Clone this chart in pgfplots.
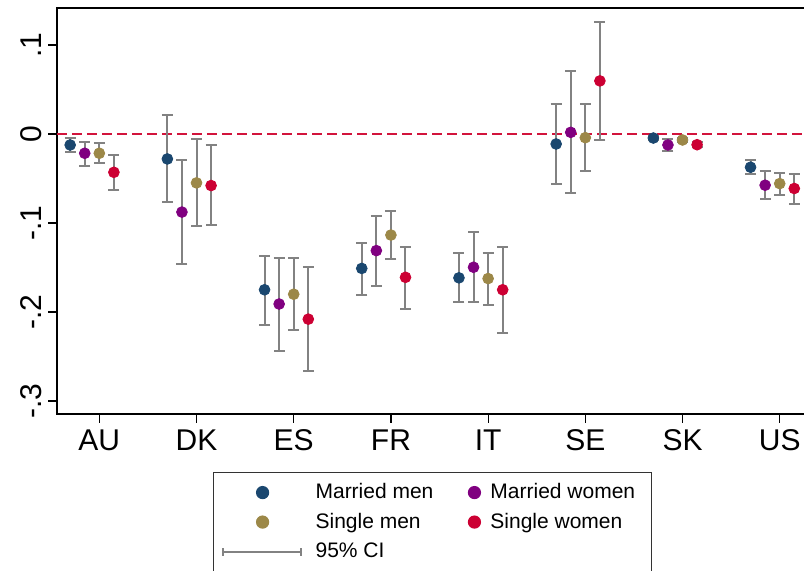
\documentclass[border=0pt]{standalone}
\usepackage{fontspec}
\setmainfont{Liberation Sans}
\usepackage{pgfplots}
\usepackage{pgfplotstable}
\pgfplotsset{compat=1.18}
\definecolor{mmcol}{RGB}{26,71,111}
\definecolor{mwcol}{RGB}{128,0,128}
\definecolor{smcol}{RGB}{156,136,72}
\definecolor{swcol}{RGB}{204,0,51}
\definecolor{cigray}{RGB}{130,130,130}
\definecolor{zerored}{RGB}{210,20,60}

% cat  y  lo  hi
\pgfplotstableread{
cat y lo hi
1 -0.0123 -0.0200 -0.0040
2 -0.0280 -0.0765 0.0210
3 -0.1750 -0.2146 -0.1366
4 -0.1510 -0.1806 -0.1220
5 -0.1616 -0.1890 -0.1340
6 -0.0112 -0.0557 0.0336
7 -0.0045 -0.0065 -0.0025
8 -0.0373 -0.0450 -0.0290
}\mm
\pgfplotstableread{
cat y lo hi
1 -0.0216 -0.0355 -0.0086
2 -0.0877 -0.1460 -0.0295
3 -0.1910 -0.2438 -0.1389
4 -0.1310 -0.1706 -0.0926
5 -0.1497 -0.1885 -0.1100
6 0.0019 -0.0664 0.0705
7 -0.0123 -0.0190 -0.0060
8 -0.0575 -0.0730 -0.0414
}\mw
\pgfplotstableread{
cat y lo hi
1 -0.0216 -0.0330 -0.0100
2 -0.0549 -0.1038 -0.0060
3 -0.1800 -0.2200 -0.1390
4 -0.1135 -0.1407 -0.0862
5 -0.1624 -0.1918 -0.1333
6 -0.0041 -0.0414 0.0333
7 -0.0067 -0.0087 -0.0047
8 -0.0557 -0.0683 -0.0440
}\sm
\pgfplotstableread{
cat y lo hi
1 -0.0430 -0.0624 -0.0235
2 -0.0579 -0.1027 -0.0127
3 -0.2080 -0.2660 -0.1490
4 -0.1610 -0.1963 -0.1265
5 -0.1750 -0.2236 -0.1265
6 0.0597 -0.0064 0.1260
7 -0.0120 -0.0145 -0.0095
8 -0.0612 -0.0784 -0.0444
}\sw

\begin{document}
\begin{tikzpicture}
\useasboundingbox (-28.5pt,-78pt) rectangle (373.5pt,207pt);
\clip (-28.5pt,-78pt) rectangle (373.5pt,207pt);
\begin{axis}[
  scale only axis,
  width=382.5pt, height=203pt,
  xmin=0.5646, xmax=8.435,
  ymin=-0.3146, ymax=0.1416,
  axis line style={black, line width=0.75pt},
  tick pos=left, tick align=outside,
  major tick length=4.25pt,
  tick style={black, line width=0.6pt},
  xtick={1,2,3,4,5,6,7,8},
  xticklabels={AU,DK,ES,FR,IT,SE,SK,US},
  ytick={-0.3,-0.2,-0.1,0,0.1},
  yticklabels={-.3,-.2,-.1,0,.1},
  ticklabel style={font=\fontsize{15}{18}\selectfont},
  yticklabel style={rotate=90, anchor=south},
  /pgf/number format/assume math mode=true,
  clip=false,
  legend style={at={(axis description cs:0.2039,-0.1429)}, anchor=north west,
    draw=black!80, line width=0.6pt, inner xsep=0pt, inner ysep=2.6pt,
    row sep=0pt, column sep=0pt,
    font=\fontsize{10.5}{12}\selectfont,
    nodes={draw=none, inner xsep=0pt, inner ysep=0pt, anchor=west}},
  legend cell align=left,
  legend columns=2,
]
\draw[zerored, line width=0.75pt, dash pattern=on 5pt off 2.5pt] (axis cs:0.5646,0) -- (axis cs:8.435,0);

\pgfplotsset{cibar/.style={forget plot, draw=none, mark=none,
   error bars/.cd, y dir=both, y explicit,
   error mark=|,
   error bar style={draw=cigray, line width=1pt},
   error mark options={draw=cigray, line width=1pt, mark size=2.75pt}}}

\addplot[cibar] table[x expr=\thisrow{cat}-0.3, y=y, y error plus expr=\thisrow{hi}-\thisrow{y}, y error minus expr=\thisrow{y}-\thisrow{lo}] {\mm};
\addplot[cibar] table[x expr=\thisrow{cat}-0.15, y=y, y error plus expr=\thisrow{hi}-\thisrow{y}, y error minus expr=\thisrow{y}-\thisrow{lo}] {\mw};
\addplot[cibar] table[x expr=\thisrow{cat}, y=y, y error plus expr=\thisrow{hi}-\thisrow{y}, y error minus expr=\thisrow{y}-\thisrow{lo}] {\sm};
\addplot[cibar] table[x expr=\thisrow{cat}+0.15, y=y, y error plus expr=\thisrow{hi}-\thisrow{y}, y error minus expr=\thisrow{y}-\thisrow{lo}] {\sw};

\addplot[forget plot, only marks, mark=*, mark size=2.7pt, mmcol, mark options={fill=mmcol, draw=mmcol}] table[x expr=\thisrow{cat}-0.3, y=y] {\mm};
\addplot[forget plot, only marks, mark=*, mark size=2.7pt, mwcol, mark options={fill=mwcol, draw=mwcol}] table[x expr=\thisrow{cat}-0.15, y=y] {\mw};
\addplot[forget plot, only marks, mark=*, mark size=2.7pt, smcol, mark options={fill=smcol, draw=smcol}] table[x expr=\thisrow{cat}, y=y] {\sm};
\addplot[forget plot, only marks, mark=*, mark size=2.7pt, swcol, mark options={fill=swcol, draw=swcol}] table[x expr=\thisrow{cat}+0.15, y=y] {\sw};

\addlegendimage{legend image code/.code={
  \path[draw=none, fill=none] (0pt,-7.375pt) rectangle (51pt,7.375pt);
  \draw[mmcol, fill=mmcol, mark=*, mark size=3pt] plot coordinates {(24.5pt,0pt)};}}
\addlegendentry{Married men}
\addlegendimage{legend image code/.code={
  \path[draw=none, fill=none] (0pt,-7.375pt) rectangle (28.5pt,7.375pt);
  \draw[mwcol, fill=mwcol, mark=*, mark size=3pt] plot coordinates {(20.5pt,0pt)};}}
\addlegendentry{Married women\hspace*{8pt}}
\addlegendimage{legend image code/.code={
  \path[draw=none, fill=none] (0pt,-7.375pt) rectangle (51pt,7.375pt);
  \draw[smcol, fill=smcol, mark=*, mark size=3pt] plot coordinates {(24.5pt,0pt)};}}
\addlegendentry{Single men}
\addlegendimage{legend image code/.code={
  \path[draw=none, fill=none] (0pt,-7.375pt) rectangle (28.5pt,7.375pt);
  \draw[swcol, fill=swcol, mark=*, mark size=3pt] plot coordinates {(20.5pt,0pt)};}}
\addlegendentry{Single women}
\addlegendimage{legend image code/.code={
  \path[draw=none, fill=none] (0pt,-7.375pt) rectangle (51pt,7.375pt);
  \draw[cigray, line width=1pt] (4.5pt,0pt) -- (43.5pt,0pt);
  \draw[cigray, line width=1pt] (4.5pt,-2pt) -- (4.5pt,2pt);
  \draw[cigray, line width=1pt] (43.5pt,-2pt) -- (43.5pt,2pt);}}
\addlegendentry{95\% CI}
\end{axis}
\end{tikzpicture}
\end{document}
